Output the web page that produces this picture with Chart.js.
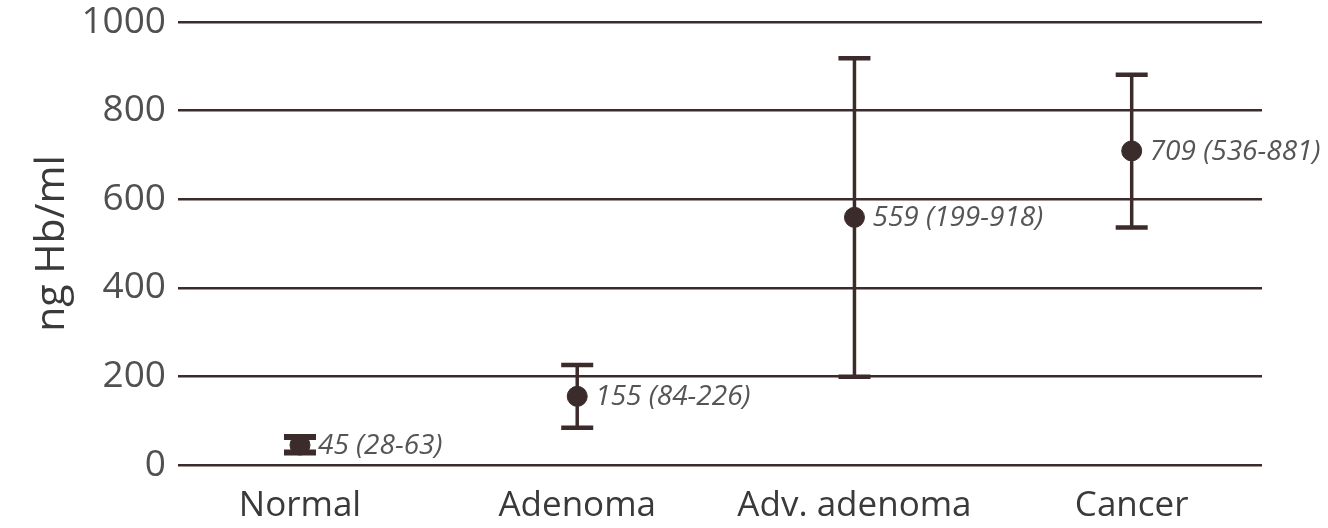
<!DOCTYPE html>
<html>
<head>
<meta charset="utf-8">
<script src="https://cdn.jsdelivr.net/npm/chart.js@4.4.0/dist/chart.umd.min.js"></script>
<style>
  body { margin: 0; background: #fff; }
</style>
</head>
<body>
<canvas id="myChart" width="1328" height="528"></canvas>
<script>
const categories = ["Normal", "Adenoma", "Adv. adenoma", "Cancer"];
const medians = [45, 155, 559, 709];
const lowValues = [28, 84, 199, 536];
const highValues = [63, 226, 918, 881];
const yTicks = [0, 200, 400, 600, 800, 1000];

const lineColor = "#3b2b2b";
const textColor = "#505050";

// error bars under the points, value text after them
const errorBars = {
    id: "errorBars",
    beforeDatasetsDraw(chart) {
        const ctx = chart.ctx;
        const xs = chart.scales.x, ys = chart.scales.y;
        ctx.save();
        ctx.strokeStyle = lineColor;
        for (let i = 0; i < medians.length; i++) {
            const x = xs.getPixelForValue(i);
            const yl = ys.getPixelForValue(lowValues[i]);
            const yh = ys.getPixelForValue(highValues[i]);
            ctx.lineWidth = 3.5;
            ctx.beginPath();
            ctx.moveTo(x, yl); ctx.lineTo(x, yh);
            ctx.stroke();
            ctx.lineWidth = i == 0 ? 6 : 4.5;
            ctx.beginPath();
            ctx.moveTo(x - 16, yl); ctx.lineTo(x + 16, yl);
            ctx.moveTo(x - 16, yh); ctx.lineTo(x + 16, yh);
            ctx.stroke();
        }
        ctx.restore();
    },
    afterDatasetsDraw(chart) {
        const ctx = chart.ctx;
        const xs = chart.scales.x, ys = chart.scales.y;
        ctx.save();
        ctx.fillStyle = "#555";
        ctx.font = "italic 28px 'Open Sans'";
        ctx.textBaseline = "middle";
        for (let i = 0; i < medians.length; i++) {
            const x = xs.getPixelForValue(i);
            const y = ys.getPixelForValue(medians[i]);
            ctx.fillText(medians[i] + " (" + lowValues[i] + "-" + highValues[i] + ")", x + 18, y + 1);
        }
        ctx.restore();
    }
};

const ctx = document.getElementById("myChart").getContext("2d");
const myChart = new Chart(ctx, {
    type: "scatter",
    data: {
        datasets: [{
            data: medians.map((v, i) => ({ x: i, y: v })),
            backgroundColor: lineColor,
            borderColor: lineColor,
            pointRadius: 10,
            pointHoverRadius: 10
        }]
    },
    plugins: [errorBars],
    options: {
        responsive: false,
        animation: false,
        devicePixelRatio: 1,
        layout: { padding: { top: 22, right: 66, bottom: 0, left: 0 } },
        plugins: { legend: { display: false }, tooltip: { enabled: false } },
        scales: {
            x: {
                type: "linear",
                min: -0.44,
                max: 3.47,
                border: { display: false },
                grid: { display: false },
                afterBuildTicks(scale) {
                    scale.ticks = categories.map((c, i) => ({ value: i }));
                },
                afterFit(scale) { scale.height = 63; },
                ticks: {
                    color: "#3a3a3a",
                    font: { family: "'Open Sans'", size: 35 },
                    padding: 12,
                    maxRotation: 0,
                    autoSkip: false,
                    callback: (v) => categories[v]
                }
            },
            y: {
                min: 0,
                max: 1000,
                border: { display: false },
                afterBuildTicks(scale) {
                    scale.ticks = yTicks.map(v => ({ value: v }));
                },
                afterFit(scale) {
                    scale.width = 178;
                    scale.paddingTop = 0;
                    scale.paddingBottom = 0;
                },
                grid: {
                    color: lineColor,
                    lineWidth: 2.5,
                    drawTicks: false
                },
                ticks: {
                    color: textColor,
                    font: { family: "'Open Sans'", size: 37 },
                    padding: 12,
                    callback: (v) => String(v)
                },
                title: {
                    display: true,
                    text: "ng Hb/ml",
                    color: "#3a3a3a",
                    font: { family: "'Open Sans'", size: 41 },
                    padding: { top: 28, bottom: 6 }
                }
            }
        }
    }
});
</script>
</body>
</html>
